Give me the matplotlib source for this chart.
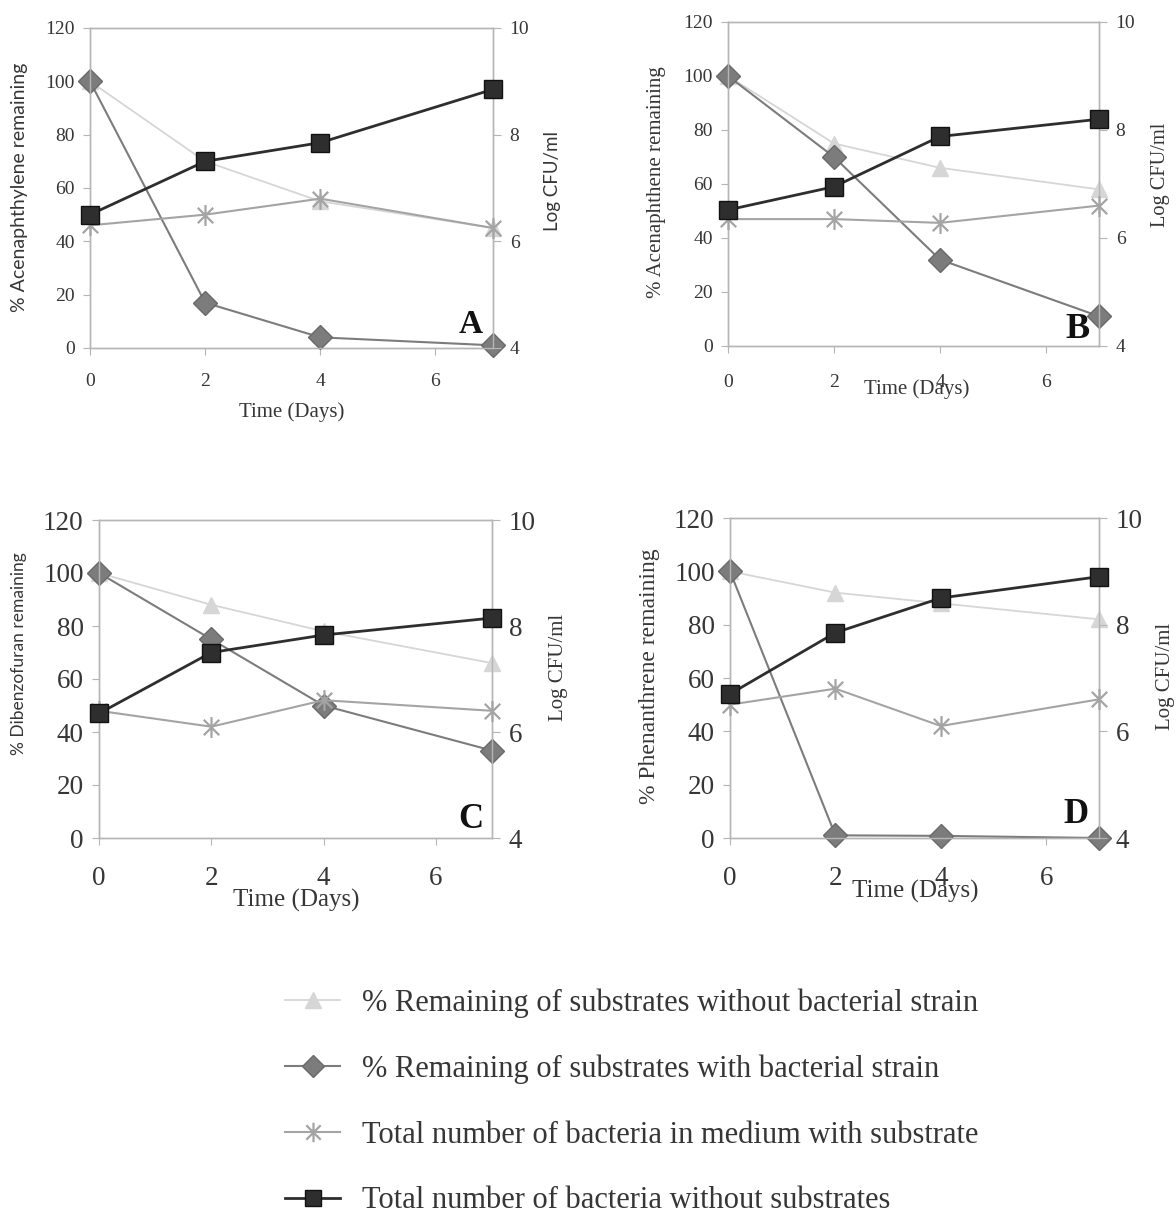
import matplotlib
matplotlib.use('Agg')
import matplotlib.pyplot as plt
from matplotlib.path import Path
from matplotlib.lines import Line2D

# ---------------- data ----------------
days = [0, 2, 4, 7]
panel_letters = ['A', 'B', 'C', 'D']
substrates = ['Acenaphthylene', 'Acenaphthene', 'Dibenzofuran', 'Phenanthrene']

# % remaining of substrate without bacterial strain (left axis)
without_strain = {
    'A': [100, 70, 55, 45],
    'B': [100, 75, 66, 58],
    'C': [100, 88, 78, 66],
    'D': [100, 92, 88, 82],
}
# % remaining of substrate with bacterial strain (left axis)
with_strain = {
    'A': [100, 17, 4, 1],
    'B': [100, 70, 32, 11],
    'C': [100, 75, 50, 33],
    'D': [100, 1, 0.8, 0],
}
# Log CFU/ml, bacteria in medium with substrate (right axis)
bact_with_substrate = {
    'A': [6.3, 6.5, 6.8, 6.25],
    'B': [6.35, 6.35, 6.28, 6.6],
    'C': [6.4, 6.1, 6.6, 6.4],
    'D': [6.5, 6.8, 6.1, 6.6],
}
# Log CFU/ml, bacteria without substrates (right axis)
bact_without_substrate = {
    'A': [6.5, 7.5, 7.85, 8.85],
    'B': [6.52, 6.95, 7.88, 8.2],
    'C': [6.35, 7.5, 7.83, 8.15],
    'D': [6.7, 7.85, 8.5, 8.9],
}
legend_labels = [
    '% Remaining of substrates without bacterial strain',
    '% Remaining of substrates with bacterial strain',
    'Total number of bacteria in medium with substrate',
    'Total number of bacteria without substrates',
]
left_ticks = [0, 20, 40, 60, 80, 100, 120]
right_ticks = [4, 6, 8, 10]
x_ticks = [0, 2, 4, 6]

# ---------------- style ----------------
plt.rcParams['font.family'] = ['Liberation Serif', 'DejaVu Serif']
SANS = ['Lato', 'DejaVu Sans']
SERIF = ['Liberation Serif', 'DejaVu Serif']
TXT = '#363636'
SPINE = '#b5b5b5'
C_TRI = '#d6d6d6'
C_DIA = '#7c7c7c'
C_AST = '#a4a4a4'
C_SQ = '#2e2e2e'

ast_marker = Path([(-1, -1), (1, 1), (-1, 1), (1, -1), (0, -1.35), (0, 1.35)],
                  [Path.MOVETO, Path.LINETO] * 3)

W, H = 1176, 1220
layout = {
    'A': dict(px=(90, 493, 28, 348), tfs=14, xfs=15, xpad=13,
              yfam=SANS, yfs=14, ylab=(-0.154, 0.503),
              rfam=SANS, rfs=13.5, rlab=(1.127, 0.522),
              xlab=(0.50, -0.169), letter=(0.945, 0.072), lfs=24),
    'B': dict(px=(728, 1099, 22, 346), tfs=14, xfs=15, xpad=15,
              yfam=SERIF, yfs=15, ylab=(-0.166, 0.506),
              rfam=SERIF, rfs=14.7, rlab=(1.141, 0.528),
              xlab=(0.508, -0.102), letter=(0.943, 0.05), lfs=26),
    'C': dict(px=(99, 492, 520, 838), tfs=19.5, xfs=18, xpad=15,
              yfam=SANS, yfs=12.5, ylab=(-0.184, 0.58),
              rfam=SERIF, rfs=15, rlab=(1.145, 0.535),
              xlab=(0.503, -0.16), letter=(0.946, 0.057), lfs=25),
    'D': dict(px=(730, 1099, 518, 838), tfs=19.5, xfs=18, xpad=15,
              yfam=SERIF, yfs=17, ylab=(-0.19, 0.506),
              rfam=SERIF, rfs=15, rlab=(1.155, 0.506),
              xlab=(0.503, -0.13), letter=(0.9375, 0.072), lfs=25),
}

fig = plt.figure(figsize=(W / 100, H / 100), dpi=100)

for letter, sub in zip(panel_letters, substrates):
    L = layout[letter]
    l, r, t, b = L['px']
    ax = fig.add_axes([l / W, 1 - b / H, (r - l) / W, (b - t) / H])
    ax2 = ax.twinx()

    ax.plot(days, without_strain[letter], color=C_TRI, lw=1.3, marker='^',
            ms=11, mfc=C_TRI, mec=C_TRI, clip_on=False, zorder=3)
    ax.plot(days, with_strain[letter], color=C_DIA, lw=1.5, marker='D',
            ms=12.5, mfc=C_DIA, mec='#6a6a6a', clip_on=False, zorder=4)
    ax2.plot(days, bact_with_substrate[letter], color=C_AST, lw=1.5,
             marker=ast_marker, ms=15, mec=C_AST, mfc='none', mew=1.6,
             clip_on=False, zorder=3)
    ax2.plot(days, bact_without_substrate[letter], color=C_SQ, lw=2.0,
             marker='s', ms=13, mfc=C_SQ, mec='#111111', clip_on=False,
             zorder=4)

    ax.set_xlim(0, 7)
    ax.set_ylim(0, 120)
    ax2.set_ylim(4, 10)
    ax.set_xticks(x_ticks)
    ax.set_yticks(left_ticks)
    ax2.set_yticks(right_ticks)

    for a in (ax, ax2):
        for s in a.spines.values():
            s.set_color(SPINE)
            s.set_linewidth(1.0)
    ax.tick_params(axis='x', direction='out', length=5, color=SPINE,
                   labelsize=L['tfs'], labelcolor=TXT, pad=L['xpad'])
    ax.tick_params(axis='y', direction='out', length=5, color=SPINE,
                   labelsize=L['tfs'], labelcolor=TXT, pad=6)
    ax2.tick_params(axis='y', direction='out', length=6, color=SPINE,
                    labelsize=L['tfs'], labelcolor=TXT, pad=6)

    ax.set_ylabel('% ' + sub + ' remaining', fontsize=L['yfs'], color=TXT,
                  family=L['yfam'])
    ax.yaxis.set_label_coords(*L['ylab'])
    ax2.set_ylabel('Log CFU/ml', fontsize=L['rfs'], color=TXT,
                   family=L['rfam'], rotation=90)
    ax2.yaxis.set_label_coords(*L['rlab'])
    ax.set_xlabel('Time (Days)', fontsize=L['xfs'], color=TXT)
    ax.xaxis.set_label_coords(*L['xlab'])

    ax2.text(L['letter'][0], L['letter'][1], letter, transform=ax.transAxes,
             ha='center', va='center', fontsize=L['lfs'], fontweight='bold',
             color='#111111', zorder=10)

handles = [
    Line2D([], [], color=C_TRI, lw=1.3, marker='^', ms=11, mfc=C_TRI, mec=C_TRI),
    Line2D([], [], color=C_DIA, lw=1.5, marker='D', ms=11, mfc=C_DIA, mec='#6a6a6a'),
    Line2D([], [], color=C_AST, lw=1.5, marker=ast_marker, ms=14, mec=C_AST,
           mfc='none', mew=1.6),
    Line2D([], [], color=C_SQ, lw=2.0, marker='s', ms=11, mfc=C_SQ, mec='#111111'),
]
fig.legend(handles, legend_labels, loc='center left',
           bbox_to_anchor=(285 / W, 1 - 1102 / H), frameon=False,
           fontsize=22, labelcolor=TXT, handlelength=1.8, handletextpad=0.72,
           labelspacing=1.2, borderpad=0, borderaxespad=0)

fig.savefig('out.png', dpi=100, facecolor='white')
